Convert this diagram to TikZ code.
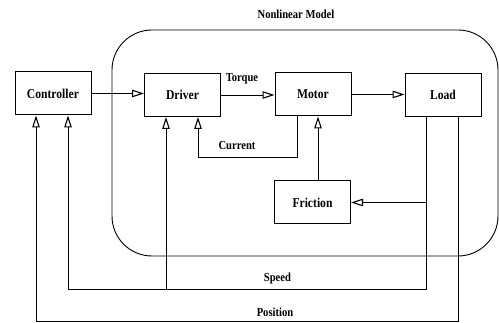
\documentclass[tikz,border=0pt]{standalone}
\usepackage{fontspec}
\newfontfamily\dfont[FakeStretch=0.86]{Liberation Serif}
\usetikzlibrary{arrows.meta}
\begin{document}
\begin{tikzpicture}[x=1pt,y=-1pt,
  blk/.style={draw,line width=1pt,minimum width=76pt,minimum height=43pt,inner sep=0pt,font=\dfont\bfseries\fontsize{13.5}{15}\selectfont},
  lbl/.style={font=\dfont\bfseries\fontsize{12.3}{14}\selectfont,inner sep=0pt},
  arr/.style={line width=0.8pt,-{Triangle[open,length=12pt,width=7.5pt,line width=1.1pt]}},
  ln/.style={line width=0.8pt}]
\useasboundingbox (0,0) rectangle (499,323);
% nonlinear model region
\draw[line width=0.9pt,rounded corners=40pt] (112,30) rectangle (498,256);
\node[lbl] (nm) at (296,14) {Nonlinear Model};
% blocks
\node[blk] (ctrl) at (53,93.5) {Controller};
\node[blk] (drv) at (182.5,95) {Driver};
\node[blk] (mot) at (313,94.5) {Motor};
\node[blk] (load) at (443,95) {Load};
\node[blk] (fric) at (312.5,202.5) {Friction};
% forward path
\draw[arr] (ctrl.east) -- (ctrl.east -| drv.west);
\draw[arr] (drv.east) -- (drv.east -| mot.west);
\draw[arr] (mot.east) -- (mot.east -| load.west);
\node[lbl] (tq) at (242,79) {Torque};
% current feedback
\coordinate (mc) at ([xshift=-16pt]mot.south);
\coordinate (dc) at ([xshift=15.5pt]drv.south);
\draw[arr] (mc) -- ++(0,41) -| (dc);
\node[lbl] (cur) at (237,146) {Current};
% friction
\draw[arr] (fric.north -| 318,0) -- (mot.south -| 318,0);
% speed feedback
\coordinate (ls) at ([xshift=-17pt]load.south);
\coordinate (cs) at ([xshift=15pt]ctrl.south);
\coordinate (ds) at ([xshift=-16.5pt]drv.south);
\draw[arr] (ls) -- ++(0,172) coordinate (sb) -| (cs);
\draw[arr] (sb -| ds) -- (ds);
\draw[arr] (ls |- fric.east) -- (fric.east);
\node[lbl] (spd) at (277.5,279) {Speed};
% position feedback
\coordinate (lp) at ([xshift=15pt]load.south);
\coordinate (cp) at ([xshift=-17pt]ctrl.south);
\draw[arr] (lp) -- ++(0,204) -| (cp);
\node[lbl] (pos) at (275,312) {Position};
\end{tikzpicture}
\end{document}
